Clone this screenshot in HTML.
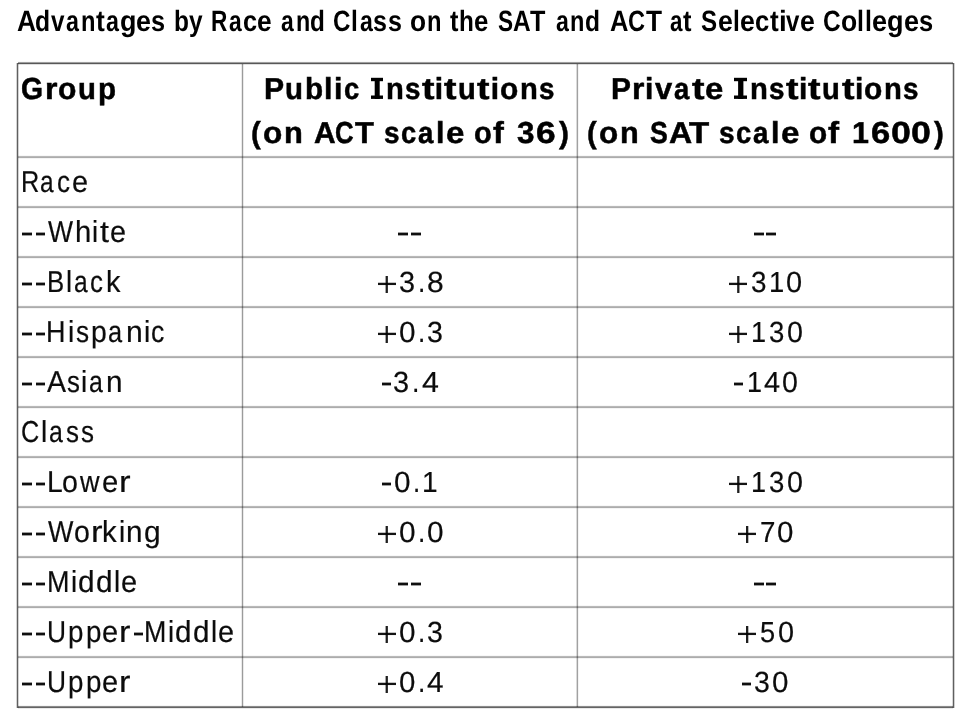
<!DOCTYPE html>
<html><head><meta charset="utf-8">
<style>
html,body{margin:0;padding:0;background:#fff;}
body{width:967px;height:720px;position:relative;overflow:hidden;font-family:"Liberation Sans",sans-serif;color:#0c0c0c;}
.g{position:absolute;mix-blend-mode:multiply;}
.t{position:absolute;white-space:nowrap;transform-origin:0 0;line-height:1;text-rendering:geometricPrecision;}
.b{font-weight:bold;color:#000;}
.h{-webkit-text-stroke:0.5px #000;}
.r{-webkit-text-stroke:0.2px #0c0c0c;}
#w{position:absolute;left:0;top:0;width:967px;height:720px;will-change:transform;filter:blur(0.45px);}
</style></head><body><div id="w">
<div class="g" style="left:18.00px;top:61px;width:935.00px;height:4px;background:linear-gradient(to bottom,#f9f9f9 0px 1px,#9f9f9f 1px 2px,#575757 2px 3px,#dfdfdf 3px 4px)"></div>
<div class="g" style="left:18.00px;top:705px;width:935.00px;height:4px;background:linear-gradient(to bottom,#f6f6f6 0px 1px,#8b8b8b 1px 2px,#646464 2px 3px,#e9e9e9 3px 4px)"></div>
<div class="g" style="left:16px;top:62.60px;width:3px;height:645.20px;background:linear-gradient(to right,#d3d3d3 0px 1px,#5f5f5f 1px 2px,#d3d3d3 2px 3px)"></div>
<div class="g" style="left:952px;top:62.60px;width:3px;height:645.20px;background:linear-gradient(to right,#d7d7d7 0px 1px,#5f5f5f 1px 2px,#d0d0d0 2px 3px)"></div>
<div class="g" style="left:241px;top:64.00px;width:3px;height:643.00px;background:linear-gradient(to right,#eaeaea 0px 1px,#9b9b9b 1px 2px,#eaeaea 2px 3px)"></div>
<div class="g" style="left:576px;top:64.00px;width:3px;height:643.00px;background:linear-gradient(to right,#dadada 0px 1px,#a1a1a1 1px 2px,#f4f4f4 2px 3px)"></div>
<div class="g" style="left:18.00px;top:155px;width:935.00px;height:4px;background:linear-gradient(to bottom,#f8f8f8 0px 1px,#b9b9b9 1px 2px,#acacac 2px 3px,#f4f4f4 3px 4px)"></div>
<div class="g" style="left:18.00px;top:205px;width:935.00px;height:4px;background:linear-gradient(to bottom,#f8f8f8 0px 1px,#b9b9b9 1px 2px,#acacac 2px 3px,#f4f4f4 3px 4px)"></div>
<div class="g" style="left:18.00px;top:255px;width:935.00px;height:4px;background:linear-gradient(to bottom,#f8f8f8 0px 1px,#b9b9b9 1px 2px,#acacac 2px 3px,#f4f4f4 3px 4px)"></div>
<div class="g" style="left:18.00px;top:305px;width:935.00px;height:4px;background:linear-gradient(to bottom,#f8f8f8 0px 1px,#b9b9b9 1px 2px,#acacac 2px 3px,#f4f4f4 3px 4px)"></div>
<div class="g" style="left:18.00px;top:355px;width:935.00px;height:4px;background:linear-gradient(to bottom,#f8f8f8 0px 1px,#b9b9b9 1px 2px,#acacac 2px 3px,#f4f4f4 3px 4px)"></div>
<div class="g" style="left:18.00px;top:405px;width:935.00px;height:4px;background:linear-gradient(to bottom,#f8f8f8 0px 1px,#b9b9b9 1px 2px,#acacac 2px 3px,#f4f4f4 3px 4px)"></div>
<div class="g" style="left:18.00px;top:455px;width:935.00px;height:4px;background:linear-gradient(to bottom,#f8f8f8 0px 1px,#b9b9b9 1px 2px,#acacac 2px 3px,#f4f4f4 3px 4px)"></div>
<div class="g" style="left:18.00px;top:505px;width:935.00px;height:4px;background:linear-gradient(to bottom,#f8f8f8 0px 1px,#b9b9b9 1px 2px,#acacac 2px 3px,#f4f4f4 3px 4px)"></div>
<div class="g" style="left:18.00px;top:555px;width:935.00px;height:4px;background:linear-gradient(to bottom,#f8f8f8 0px 1px,#b9b9b9 1px 2px,#acacac 2px 3px,#f4f4f4 3px 4px)"></div>
<div class="g" style="left:18.00px;top:605px;width:935.00px;height:4px;background:linear-gradient(to bottom,#f8f8f8 0px 1px,#b9b9b9 1px 2px,#acacac 2px 3px,#f4f4f4 3px 4px)"></div>
<div class="g" style="left:18.00px;top:655px;width:935.00px;height:4px;background:linear-gradient(to bottom,#f8f8f8 0px 1px,#b9b9b9 1px 2px,#acacac 2px 3px,#f4f4f4 3px 4px)"></div>
<span class="t b" style="left:16.50px;top:7.11px;font-size:29.4px;transform:scale(0.895,1.000)">A</span>
<span class="t b" style="left:35.34px;top:7.11px;font-size:29.4px;transform:scale(0.841,1.000)">d</span>
<span class="t b" style="left:51.14px;top:7.11px;font-size:29.4px;transform:scale(0.825,1.000)">v</span>
<span class="t b" style="left:65.97px;top:7.11px;font-size:29.4px;transform:scale(0.792,1.000)">a</span>
<span class="t b" style="left:80.74px;top:7.11px;font-size:29.4px;transform:scale(0.806,1.000)">n</span>
<span class="t b" style="left:95.86px;top:7.11px;font-size:29.4px;transform:scale(0.898,1.000)">t</span>
<span class="t b" style="left:106.20px;top:7.11px;font-size:29.4px;transform:scale(0.792,1.000)">a</span>
<span class="t b" style="left:120.29px;top:7.11px;font-size:29.4px;transform:scale(0.916,1.000)">g</span>
<span class="t b" style="left:136.31px;top:7.11px;font-size:29.4px;transform:scale(0.916,1.000)">e</span>
<span class="t b" style="left:151.24px;top:7.11px;font-size:29.4px;transform:scale(0.860,1.000)">s</span>
<span class="t b" style="left:173.67px;top:7.11px;font-size:29.4px;transform:scale(0.832,1.000)">b</span>
<span class="t b" style="left:188.56px;top:7.11px;font-size:29.4px;transform:scale(0.832,1.000)">y</span>
<span class="t b" style="left:211.43px;top:7.11px;font-size:29.4px;transform:scale(0.770,1.000)">R</span>
<span class="t b" style="left:228.99px;top:7.11px;font-size:29.4px;transform:scale(0.776,1.000)">a</span>
<span class="t b" style="left:242.84px;top:7.11px;font-size:29.4px;transform:scale(0.862,1.000)">c</span>
<span class="t b" style="left:257.13px;top:7.11px;font-size:29.4px;transform:scale(0.898,1.000)">e</span>
<span class="t b" style="left:281.00px;top:7.11px;font-size:29.4px;transform:scale(0.778,1.000)">a</span>
<span class="t b" style="left:295.50px;top:7.11px;font-size:29.4px;transform:scale(0.792,1.000)">n</span>
<span class="t b" style="left:310.35px;top:7.11px;font-size:29.4px;transform:scale(0.826,1.000)">d</span>
<span class="t b" style="left:333.48px;top:7.11px;font-size:29.4px;transform:scale(0.821,1.000)">C</span>
<span class="t b" style="left:351.39px;top:7.11px;font-size:29.4px;transform:scale(0.835,1.000)">l</span>
<span class="t b" style="left:359.59px;top:7.11px;font-size:29.4px;transform:scale(0.786,1.000)">a</span>
<span class="t b" style="left:373.35px;top:7.11px;font-size:29.4px;transform:scale(0.853,1.000)">s</span>
<span class="t b" style="left:387.65px;top:7.11px;font-size:29.4px;transform:scale(0.853,1.000)">s</span>
<span class="t b" style="left:410.31px;top:7.11px;font-size:29.4px;transform:scale(0.894,1.000)">o</span>
<span class="t b" style="left:426.79px;top:7.11px;font-size:29.4px;transform:scale(0.807,1.000)">n</span>
<span class="t b" style="left:449.70px;top:7.11px;font-size:29.4px;transform:scale(0.862,1.000)">t</span>
<span class="t b" style="left:458.51px;top:7.11px;font-size:29.4px;transform:scale(0.826,1.000)">h</span>
<span class="t b" style="left:473.82px;top:7.11px;font-size:29.4px;transform:scale(0.880,1.000)">e</span>
<span class="t b" style="left:497.80px;top:7.11px;font-size:29.4px;transform:scale(0.770,1.000)">S</span>
<span class="t b" style="left:513.09px;top:7.11px;font-size:29.4px;transform:scale(0.833,1.000)">A</span>
<span class="t b" style="left:529.59px;top:7.11px;font-size:29.4px;transform:scale(0.856,1.000)">T</span>
<span class="t b" style="left:555.60px;top:7.11px;font-size:29.4px;transform:scale(0.787,1.000)">a</span>
<span class="t b" style="left:570.27px;top:7.11px;font-size:29.4px;transform:scale(0.801,1.000)">n</span>
<span class="t b" style="left:585.29px;top:7.11px;font-size:29.4px;transform:scale(0.836,1.000)">d</span>
<span class="t b" style="left:609.50px;top:7.11px;font-size:29.4px;transform:scale(0.869,1.000)">A</span>
<span class="t b" style="left:627.84px;top:7.11px;font-size:29.4px;transform:scale(0.803,1.000)">C</span>
<span class="t b" style="left:645.53px;top:7.11px;font-size:29.4px;transform:scale(0.893,1.000)">T</span>
<span class="t b" style="left:669.80px;top:7.11px;font-size:29.4px;transform:scale(0.763,1.000)">a</span>
<span class="t b" style="left:683.45px;top:7.11px;font-size:29.4px;transform:scale(0.865,1.000)">t</span>
<span class="t b" style="left:701.30px;top:7.11px;font-size:29.4px;transform:scale(0.821,1.000)">S</span>
<span class="t b" style="left:717.54px;top:7.11px;font-size:29.4px;transform:scale(0.910,1.000)">e</span>
<span class="t b" style="left:732.66px;top:7.11px;font-size:29.4px;transform:scale(0.836,1.000)">l</span>
<span class="t b" style="left:739.96px;top:7.11px;font-size:29.4px;transform:scale(0.910,1.000)">e</span>
<span class="t b" style="left:755.04px;top:7.11px;font-size:29.4px;transform:scale(0.873,1.000)">c</span>
<span class="t b" style="left:769.59px;top:7.11px;font-size:29.4px;transform:scale(0.891,1.000)">t</span>
<span class="t b" style="left:778.51px;top:7.11px;font-size:29.4px;transform:scale(0.947,1.000)">i</span>
<span class="t b" style="left:786.39px;top:7.11px;font-size:29.4px;transform:scale(0.819,1.000)">v</span>
<span class="t b" style="left:800.24px;top:7.11px;font-size:29.4px;transform:scale(0.910,1.000)">e</span>
<span class="t b" style="left:823.17px;top:7.11px;font-size:29.4px;transform:scale(0.833,1.000)">C</span>
<span class="t b" style="left:841.29px;top:7.11px;font-size:29.4px;transform:scale(0.900,1.000)">o</span>
<span class="t b" style="left:857.28px;top:7.11px;font-size:29.4px;transform:scale(0.847,1.000)">l</span>
<span class="t b" style="left:864.75px;top:7.11px;font-size:29.4px;transform:scale(0.847,1.000)">l</span>
<span class="t b" style="left:872.15px;top:7.11px;font-size:29.4px;transform:scale(0.922,1.000)">e</span>
<span class="t b" style="left:887.40px;top:7.11px;font-size:29.4px;transform:scale(0.922,1.000)">g</span>
<span class="t b" style="left:903.53px;top:7.11px;font-size:29.4px;transform:scale(0.922,1.000)">e</span>
<span class="t b" style="left:918.55px;top:7.11px;font-size:29.4px;transform:scale(0.866,1.000)">s</span>
<span class="t b h" style="left:20.96px;top:75.05px;font-size:30.0px;transform:scale(0.945,1.010)">G</span>
<span class="t b h" style="left:44.89px;top:75.05px;font-size:30.0px;transform:scale(1.067,1.010)">r</span>
<span class="t b h" style="left:57.62px;top:75.05px;font-size:30.0px;transform:scale(1.003,1.010)">o</span>
<span class="t b h" style="left:77.68px;top:75.05px;font-size:30.0px;transform:scale(0.978,1.010)">u</span>
<span class="t b h" style="left:97.85px;top:75.05px;font-size:30.0px;transform:scale(0.986,1.010)">p</span>
<span class="t b h" style="left:264.09px;top:75.05px;font-size:30.0px;transform:scale(1.006,1.010)">P</span>
<span class="t b h" style="left:285.10px;top:75.05px;font-size:30.0px;transform:scale(0.981,1.010)">u</span>
<span class="t b h" style="left:305.32px;top:75.05px;font-size:30.0px;transform:scale(0.989,1.010)">b</span>
<span class="t b h" style="left:324.36px;top:75.05px;font-size:30.0px;transform:scale(1.009,1.010)">l</span>
<span class="t b h" style="left:333.96px;top:75.05px;font-size:30.0px;transform:scale(1.009,1.010)">i</span>
<span class="t b h" style="left:343.55px;top:75.05px;font-size:30.0px;transform:scale(0.916,1.010)">c</span>
<span class="t b h" style="left:386.23px;top:75.05px;font-size:30.0px;transform:scale(0.972,1.010)">n</span>
<span class="t b h" style="left:405.22px;top:75.05px;font-size:30.0px;transform:scale(0.926,1.010)">s</span>
<span class="t b h" style="left:421.57px;top:75.05px;font-size:30.0px;transform:scale(1.250,1.010)">t</span>
<span class="t b h" style="left:434.79px;top:75.05px;font-size:30.0px;transform:scale(1.000,1.010)">i</span>
<span class="t b h" style="left:444.37px;top:75.05px;font-size:30.0px;transform:scale(1.250,1.010)">t</span>
<span class="t b h" style="left:458.35px;top:75.05px;font-size:30.0px;transform:scale(0.972,1.010)">u</span>
<span class="t b h" style="left:477.43px;top:75.05px;font-size:30.0px;transform:scale(1.250,1.010)">t</span>
<span class="t b h" style="left:490.66px;top:75.05px;font-size:30.0px;transform:scale(1.000,1.010)">i</span>
<span class="t b h" style="left:500.07px;top:75.05px;font-size:30.0px;transform:scale(0.997,1.010)">o</span>
<span class="t b h" style="left:520.29px;top:75.05px;font-size:30.0px;transform:scale(0.972,1.010)">n</span>
<span class="t b h" style="left:539.28px;top:75.05px;font-size:30.0px;transform:scale(0.926,1.010)">s</span>
<span class="t b h" style="left:250.52px;top:118.65px;font-size:30.0px;transform:scale(0.978,1.010)">(</span>
<span class="t b h" style="left:262.68px;top:118.65px;font-size:30.0px;transform:scale(1.053,1.010)">o</span>
<span class="t b h" style="left:284.04px;top:118.65px;font-size:30.0px;transform:scale(1.027,1.010)">n</span>
<span class="t b h" style="left:314.10px;top:118.65px;font-size:30.0px;transform:scale(0.999,1.010)">A</span>
<span class="t b h" style="left:335.41px;top:118.65px;font-size:30.0px;transform:scale(0.858,1.010)">C</span>
<span class="t b h" style="left:355.18px;top:118.65px;font-size:30.0px;transform:scale(1.029,1.010)">T</span>
<span class="t b h" style="left:384.37px;top:118.65px;font-size:30.0px;transform:scale(0.932,1.010)">s</span>
<span class="t b h" style="left:400.75px;top:118.65px;font-size:30.0px;transform:scale(0.914,1.010)">c</span>
<span class="t b h" style="left:418.24px;top:118.65px;font-size:30.0px;transform:scale(0.921,1.010)">a</span>
<span class="t b h" style="left:436.22px;top:118.65px;font-size:30.0px;transform:scale(1.007,1.010)">l</span>
<span class="t b h" style="left:445.60px;top:118.65px;font-size:30.0px;transform:scale(1.100,1.010)">e</span>
<span class="t b h" style="left:474.03px;top:118.65px;font-size:30.0px;transform:scale(0.971,1.010)">o</span>
<span class="t b h" style="left:492.79px;top:118.65px;font-size:30.0px;transform:scale(1.083,1.010)">f</span>
<span class="t b h" style="left:516.80px;top:118.65px;font-size:30.0px;transform:scale(1.047,1.010)">3</span>
<span class="t b h" style="left:536.44px;top:118.65px;font-size:30.0px;transform:scale(1.177,1.010)">6</span>
<span class="t b h" style="left:559.03px;top:118.65px;font-size:30.0px;transform:scale(0.997,1.010)">)</span>
<span class="t b h" style="left:611.20px;top:75.05px;font-size:30.0px;transform:scale(0.998,1.010)">P</span>
<span class="t b h" style="left:632.25px;top:75.05px;font-size:30.0px;transform:scale(1.062,1.010)">r</span>
<span class="t b h" style="left:645.04px;top:75.05px;font-size:30.0px;transform:scale(1.002,1.010)">i</span>
<span class="t b h" style="left:654.63px;top:75.05px;font-size:30.0px;transform:scale(1.031,1.010)">v</span>
<span class="t b h" style="left:673.60px;top:75.05px;font-size:30.0px;transform:scale(0.917,1.010)">a</span>
<span class="t b h" style="left:691.55px;top:75.05px;font-size:30.0px;transform:scale(1.252,1.010)">t</span>
<span class="t b h" style="left:704.59px;top:75.05px;font-size:30.0px;transform:scale(1.095,1.010)">e</span>
<span class="t b h" style="left:750.23px;top:75.05px;font-size:30.0px;transform:scale(0.974,1.010)">n</span>
<span class="t b h" style="left:769.24px;top:75.05px;font-size:30.0px;transform:scale(0.927,1.010)">s</span>
<span class="t b h" style="left:785.61px;top:75.05px;font-size:30.0px;transform:scale(1.252,1.010)">t</span>
<span class="t b h" style="left:798.85px;top:75.05px;font-size:30.0px;transform:scale(1.001,1.010)">i</span>
<span class="t b h" style="left:808.44px;top:75.05px;font-size:30.0px;transform:scale(1.252,1.010)">t</span>
<span class="t b h" style="left:822.43px;top:75.05px;font-size:30.0px;transform:scale(0.974,1.010)">u</span>
<span class="t b h" style="left:841.54px;top:75.05px;font-size:30.0px;transform:scale(1.252,1.010)">t</span>
<span class="t b h" style="left:854.78px;top:75.05px;font-size:30.0px;transform:scale(1.001,1.010)">i</span>
<span class="t b h" style="left:864.21px;top:75.05px;font-size:30.0px;transform:scale(0.998,1.010)">o</span>
<span class="t b h" style="left:884.45px;top:75.05px;font-size:30.0px;transform:scale(0.974,1.010)">n</span>
<span class="t b h" style="left:903.47px;top:75.05px;font-size:30.0px;transform:scale(0.927,1.010)">s</span>
<span class="t b h" style="left:586.73px;top:118.65px;font-size:30.0px;transform:scale(0.972,1.010)">(</span>
<span class="t b h" style="left:598.82px;top:118.65px;font-size:30.0px;transform:scale(1.047,1.010)">o</span>
<span class="t b h" style="left:620.05px;top:118.65px;font-size:30.0px;transform:scale(1.021,1.010)">n</span>
<span class="t b h" style="left:650.00px;top:118.65px;font-size:30.0px;transform:scale(0.890,1.010)">S</span>
<span class="t b h" style="left:668.96px;top:118.65px;font-size:30.0px;transform:scale(1.069,1.010)">A</span>
<span class="t b h" style="left:689.27px;top:118.65px;font-size:30.0px;transform:scale(1.102,1.010)">T</span>
<span class="t b h" style="left:719.36px;top:118.65px;font-size:30.0px;transform:scale(0.936,1.010)">s</span>
<span class="t b h" style="left:735.81px;top:118.65px;font-size:30.0px;transform:scale(0.917,1.010)">c</span>
<span class="t b h" style="left:753.37px;top:118.65px;font-size:30.0px;transform:scale(0.925,1.010)">a</span>
<span class="t b h" style="left:771.42px;top:118.65px;font-size:30.0px;transform:scale(1.011,1.010)">l</span>
<span class="t b h" style="left:780.83px;top:118.65px;font-size:30.0px;transform:scale(1.104,1.010)">e</span>
<span class="t b h" style="left:809.31px;top:118.65px;font-size:30.0px;transform:scale(0.991,1.010)">o</span>
<span class="t b h" style="left:828.45px;top:118.65px;font-size:30.0px;transform:scale(1.105,1.010)">f</span>
<span class="t b h" style="left:852.08px;top:118.65px;font-size:30.0px;transform:scale(1.015,1.010)">1</span>
<span class="t b h" style="left:870.86px;top:118.65px;font-size:30.0px;transform:scale(1.152,1.010)">6</span>
<span class="t b h" style="left:890.61px;top:118.65px;font-size:30.0px;transform:scale(1.191,1.010)">0</span>
<span class="t b h" style="left:910.98px;top:118.65px;font-size:30.0px;transform:scale(1.191,1.010)">0</span>
<span class="t b h" style="left:933.69px;top:118.65px;font-size:30.0px;transform:scale(0.981,1.010)">)</span>
<span class="t r" style="left:21.41px;top:168.35px;font-size:30.0px;transform:scale(0.846,1.010)">R</span>
<span class="t r" style="left:40.10px;top:168.35px;font-size:30.0px;transform:scale(0.814,1.010)">a</span>
<span class="t r" style="left:56.74px;top:168.35px;font-size:30.0px;transform:scale(0.871,1.010)">c</span>
<span class="t r" style="left:71.88px;top:168.35px;font-size:30.0px;transform:scale(0.960,1.010)">e</span>
<span class="t r" style="left:47.60px;top:218.35px;font-size:30.0px;transform:scale(0.885,1.010)">W</span>
<span class="t r" style="left:74.60px;top:218.35px;font-size:30.0px;transform:scale(0.977,1.010)">h</span>
<span class="t r" style="left:92.21px;top:218.35px;font-size:30.0px;transform:scale(0.920,1.010)">i</span>
<span class="t r" style="left:99.79px;top:218.35px;font-size:30.0px;transform:scale(1.074,1.010)">t</span>
<span class="t r" style="left:110.49px;top:218.35px;font-size:30.0px;transform:scale(0.957,1.010)">e</span>
<span class="t r" style="left:47.18px;top:268.35px;font-size:30.0px;transform:scale(0.859,1.010)">B</span>
<span class="t r" style="left:65.97px;top:268.35px;font-size:30.0px;transform:scale(0.919,1.010)">l</span>
<span class="t r" style="left:73.76px;top:268.35px;font-size:30.0px;transform:scale(0.817,1.010)">a</span>
<span class="t r" style="left:90.38px;top:268.35px;font-size:30.0px;transform:scale(0.866,1.010)">c</span>
<span class="t r" style="left:105.57px;top:268.35px;font-size:30.0px;transform:scale(0.964,1.010)">k</span>
<span class="t r" style="left:46.30px;top:318.35px;font-size:30.0px;transform:scale(0.899,1.010)">H</span>
<span class="t r" style="left:67.56px;top:318.35px;font-size:30.0px;transform:scale(0.946,1.010)">i</span>
<span class="t r" style="left:76.20px;top:318.35px;font-size:30.0px;transform:scale(0.872,1.010)">s</span>
<span class="t r" style="left:91.19px;top:318.35px;font-size:30.0px;transform:scale(0.946,1.010)">p</span>
<span class="t r" style="left:108.36px;top:318.35px;font-size:30.0px;transform:scale(0.846,1.010)">a</span>
<span class="t r" style="left:125.55px;top:318.35px;font-size:30.0px;transform:scale(1.005,1.010)">n</span>
<span class="t r" style="left:143.66px;top:318.35px;font-size:30.0px;transform:scale(0.946,1.010)">i</span>
<span class="t r" style="left:151.41px;top:318.35px;font-size:30.0px;transform:scale(0.892,1.010)">c</span>
<span class="t r" style="left:46.50px;top:368.35px;font-size:30.0px;transform:scale(0.952,1.010)">A</span>
<span class="t r" style="left:67.06px;top:368.35px;font-size:30.0px;transform:scale(0.860,1.010)">s</span>
<span class="t r" style="left:80.90px;top:368.35px;font-size:30.0px;transform:scale(0.934,1.010)">i</span>
<span class="t r" style="left:88.84px;top:368.35px;font-size:30.0px;transform:scale(0.828,1.010)">a</span>
<span class="t r" style="left:105.73px;top:368.35px;font-size:30.0px;transform:scale(0.991,1.010)">n</span>
<span class="t r" style="left:20.76px;top:418.35px;font-size:30.0px;transform:scale(0.845,1.010)">C</span>
<span class="t r" style="left:40.51px;top:418.35px;font-size:30.0px;transform:scale(0.938,1.010)">l</span>
<span class="t r" style="left:48.53px;top:418.35px;font-size:30.0px;transform:scale(0.827,1.010)">a</span>
<span class="t r" style="left:66.33px;top:418.35px;font-size:30.0px;transform:scale(0.865,1.010)">s</span>
<span class="t r" style="left:81.00px;top:418.35px;font-size:30.0px;transform:scale(0.865,1.010)">s</span>
<span class="t r" style="left:46.72px;top:468.35px;font-size:30.0px;transform:scale(0.942,1.010)">L</span>
<span class="t r" style="left:61.67px;top:468.35px;font-size:30.0px;transform:scale(0.954,1.010)">o</span>
<span class="t r" style="left:80.41px;top:468.35px;font-size:30.0px;transform:scale(0.903,1.010)">w</span>
<span class="t r" style="left:101.77px;top:468.35px;font-size:30.0px;transform:scale(0.973,1.010)">e</span>
<span class="t r" style="left:118.82px;top:468.35px;font-size:30.0px;transform:scale(1.158,1.010)">r</span>
<span class="t r" style="left:48.10px;top:518.35px;font-size:30.0px;transform:scale(0.897,1.010)">W</span>
<span class="t r" style="left:73.73px;top:518.35px;font-size:30.0px;transform:scale(0.951,1.010)">o</span>
<span class="t r" style="left:90.61px;top:518.35px;font-size:30.0px;transform:scale(1.154,1.010)">r</span>
<span class="t r" style="left:102.46px;top:518.35px;font-size:30.0px;transform:scale(0.979,1.010)">k</span>
<span class="t r" style="left:118.76px;top:518.35px;font-size:30.0px;transform:scale(0.933,1.010)">i</span>
<span class="t r" style="left:126.42px;top:518.35px;font-size:30.0px;transform:scale(0.990,1.010)">n</span>
<span class="t r" style="left:144.01px;top:518.35px;font-size:30.0px;transform:scale(0.999,1.010)">g</span>
<span class="t r" style="left:46.80px;top:568.35px;font-size:30.0px;transform:scale(0.900,1.010)">M</span>
<span class="t r" style="left:70.74px;top:568.35px;font-size:30.0px;transform:scale(0.927,1.010)">i</span>
<span class="t r" style="left:78.21px;top:568.35px;font-size:30.0px;transform:scale(0.993,1.010)">d</span>
<span class="t r" style="left:95.87px;top:568.35px;font-size:30.0px;transform:scale(0.993,1.010)">d</span>
<span class="t r" style="left:113.77px;top:568.35px;font-size:30.0px;transform:scale(0.927,1.010)">l</span>
<span class="t r" style="left:121.28px;top:568.35px;font-size:30.0px;transform:scale(0.964,1.010)">e</span>
<span class="t r" style="left:46.54px;top:618.35px;font-size:30.0px;transform:scale(0.879,1.010)">U</span>
<span class="t r" style="left:67.98px;top:618.35px;font-size:30.0px;transform:scale(0.926,1.010)">p</span>
<span class="t r" style="left:85.60px;top:618.35px;font-size:30.0px;transform:scale(0.926,1.010)">p</span>
<span class="t r" style="left:102.08px;top:618.35px;font-size:30.0px;transform:scale(0.963,1.010)">e</span>
<span class="t r" style="left:118.95px;top:618.35px;font-size:30.0px;transform:scale(1.145,1.010)">r</span>
<span class="t r" style="left:144.01px;top:618.35px;font-size:30.0px;transform:scale(0.895,1.010)">M</span>
<span class="t r" style="left:167.81px;top:618.35px;font-size:30.0px;transform:scale(0.922,1.010)">i</span>
<span class="t r" style="left:175.25px;top:618.35px;font-size:30.0px;transform:scale(0.988,1.010)">d</span>
<span class="t r" style="left:192.80px;top:618.35px;font-size:30.0px;transform:scale(0.988,1.010)">d</span>
<span class="t r" style="left:210.60px;top:618.35px;font-size:30.0px;transform:scale(0.922,1.010)">l</span>
<span class="t r" style="left:218.06px;top:618.35px;font-size:30.0px;transform:scale(0.959,1.010)">e</span>
<span class="t r" style="left:46.54px;top:668.35px;font-size:30.0px;transform:scale(0.879,1.010)">U</span>
<span class="t r" style="left:67.98px;top:668.35px;font-size:30.0px;transform:scale(0.926,1.010)">p</span>
<span class="t r" style="left:85.60px;top:668.35px;font-size:30.0px;transform:scale(0.926,1.010)">p</span>
<span class="t r" style="left:102.08px;top:668.35px;font-size:30.0px;transform:scale(0.963,1.010)">e</span>
<span class="t r" style="left:118.95px;top:668.35px;font-size:30.0px;transform:scale(1.145,1.010)">r</span>
<span class="t r" style="left:399.04px;top:269.38px;font-size:30.0px;transform:scale(0.962,0.970)">3</span>
<span class="t r" style="left:417.72px;top:269.38px;font-size:30.0px;transform:scale(0.877,0.970)">.</span>
<span class="t r" style="left:426.79px;top:269.38px;font-size:30.0px;transform:scale(1.001,0.970)">8</span>
<span class="t r" style="left:399.01px;top:319.38px;font-size:30.0px;transform:scale(0.991,0.970)">0</span>
<span class="t r" style="left:417.85px;top:319.38px;font-size:30.0px;transform:scale(0.869,0.970)">.</span>
<span class="t r" style="left:427.16px;top:319.38px;font-size:30.0px;transform:scale(0.953,0.970)">3</span>
<span class="t r" style="left:393.44px;top:369.38px;font-size:30.0px;transform:scale(0.964,0.970)">3</span>
<span class="t r" style="left:412.12px;top:369.38px;font-size:30.0px;transform:scale(0.891,0.970)">.</span>
<span class="t r" style="left:421.67px;top:369.38px;font-size:30.0px;transform:scale(1.014,0.970)">4</span>
<span class="t r" style="left:393.71px;top:469.38px;font-size:30.0px;transform:scale(0.991,0.970)">0</span>
<span class="t r" style="left:412.57px;top:469.38px;font-size:30.0px;transform:scale(0.863,0.970)">.</span>
<span class="t r" style="left:421.81px;top:469.38px;font-size:30.0px;transform:scale(0.937,0.970)">1</span>
<span class="t r" style="left:399.01px;top:519.38px;font-size:30.0px;transform:scale(0.994,0.970)">0</span>
<span class="t r" style="left:417.87px;top:519.38px;font-size:30.0px;transform:scale(0.877,0.970)">.</span>
<span class="t r" style="left:426.90px;top:519.38px;font-size:30.0px;transform:scale(0.994,0.970)">0</span>
<span class="t r" style="left:399.01px;top:619.38px;font-size:30.0px;transform:scale(0.991,0.970)">0</span>
<span class="t r" style="left:417.85px;top:619.38px;font-size:30.0px;transform:scale(0.869,0.970)">.</span>
<span class="t r" style="left:427.16px;top:619.38px;font-size:30.0px;transform:scale(0.953,0.970)">3</span>
<span class="t r" style="left:399.02px;top:669.38px;font-size:30.0px;transform:scale(0.981,0.970)">0</span>
<span class="t r" style="left:417.58px;top:669.38px;font-size:30.0px;transform:scale(0.877,0.970)">.</span>
<span class="t r" style="left:426.94px;top:669.38px;font-size:30.0px;transform:scale(0.991,0.970)">4</span>
<span class="t r" style="left:750.57px;top:269.38px;font-size:30.0px;transform:scale(0.929,0.970)">3</span>
<span class="t r" style="left:768.62px;top:269.38px;font-size:30.0px;transform:scale(0.914,0.970)">1</span>
<span class="t r" style="left:786.43px;top:269.38px;font-size:30.0px;transform:scale(0.967,0.970)">0</span>
<span class="t r" style="left:751.09px;top:319.38px;font-size:30.0px;transform:scale(0.904,0.970)">1</span>
<span class="t r" style="left:769.03px;top:319.38px;font-size:30.0px;transform:scale(0.919,0.970)">3</span>
<span class="t r" style="left:786.60px;top:319.38px;font-size:30.0px;transform:scale(0.956,0.970)">0</span>
<span class="t r" style="left:746.50px;top:369.38px;font-size:30.0px;transform:scale(0.900,0.970)">1</span>
<span class="t r" style="left:764.44px;top:369.38px;font-size:30.0px;transform:scale(0.963,0.970)">4</span>
<span class="t r" style="left:781.86px;top:369.38px;font-size:30.0px;transform:scale(0.952,0.970)">0</span>
<span class="t r" style="left:751.09px;top:469.38px;font-size:30.0px;transform:scale(0.904,0.970)">1</span>
<span class="t r" style="left:769.03px;top:469.38px;font-size:30.0px;transform:scale(0.919,0.970)">3</span>
<span class="t r" style="left:786.60px;top:469.38px;font-size:30.0px;transform:scale(0.956,0.970)">0</span>
<span class="t r" style="left:759.67px;top:519.38px;font-size:30.0px;transform:scale(0.926,0.970)">7</span>
<span class="t r" style="left:777.45px;top:519.38px;font-size:30.0px;transform:scale(0.984,0.970)">0</span>
<span class="t r" style="left:760.09px;top:619.38px;font-size:30.0px;transform:scale(0.907,0.970)">5</span>
<span class="t r" style="left:777.78px;top:619.38px;font-size:30.0px;transform:scale(0.964,0.970)">0</span>
<span class="t r" style="left:754.05px;top:669.38px;font-size:30.0px;transform:scale(0.949,0.970)">3</span>
<span class="t r" style="left:772.20px;top:669.38px;font-size:30.0px;transform:scale(0.987,0.970)">0</span>
<div class="g" style="left:22.40px;top:232px;width:9.35px;height:4px;background:linear-gradient(to bottom,#9f9f9f 0px 1px,#0f0f0f 1px 2px,#0f0f0f 2px 3px,#9f9f9f 3px 4px)"></div>
<div class="g" style="left:35.50px;top:232px;width:9.20px;height:4px;background:linear-gradient(to bottom,#9f9f9f 0px 1px,#0f0f0f 1px 2px,#0f0f0f 2px 3px,#9f9f9f 3px 4px)"></div>
<div class="g" style="left:22.40px;top:282px;width:9.35px;height:4px;background:linear-gradient(to bottom,#9f9f9f 0px 1px,#0f0f0f 1px 2px,#0f0f0f 2px 3px,#9f9f9f 3px 4px)"></div>
<div class="g" style="left:35.50px;top:282px;width:9.20px;height:4px;background:linear-gradient(to bottom,#9f9f9f 0px 1px,#0f0f0f 1px 2px,#0f0f0f 2px 3px,#9f9f9f 3px 4px)"></div>
<div class="g" style="left:22.40px;top:332px;width:9.35px;height:4px;background:linear-gradient(to bottom,#9f9f9f 0px 1px,#0f0f0f 1px 2px,#0f0f0f 2px 3px,#9f9f9f 3px 4px)"></div>
<div class="g" style="left:35.50px;top:332px;width:9.20px;height:4px;background:linear-gradient(to bottom,#9f9f9f 0px 1px,#0f0f0f 1px 2px,#0f0f0f 2px 3px,#9f9f9f 3px 4px)"></div>
<div class="g" style="left:22.40px;top:382px;width:9.35px;height:4px;background:linear-gradient(to bottom,#9f9f9f 0px 1px,#0f0f0f 1px 2px,#0f0f0f 2px 3px,#9f9f9f 3px 4px)"></div>
<div class="g" style="left:35.50px;top:382px;width:9.20px;height:4px;background:linear-gradient(to bottom,#9f9f9f 0px 1px,#0f0f0f 1px 2px,#0f0f0f 2px 3px,#9f9f9f 3px 4px)"></div>
<div class="g" style="left:22.40px;top:482px;width:9.35px;height:4px;background:linear-gradient(to bottom,#9f9f9f 0px 1px,#0f0f0f 1px 2px,#0f0f0f 2px 3px,#9f9f9f 3px 4px)"></div>
<div class="g" style="left:35.50px;top:482px;width:9.20px;height:4px;background:linear-gradient(to bottom,#9f9f9f 0px 1px,#0f0f0f 1px 2px,#0f0f0f 2px 3px,#9f9f9f 3px 4px)"></div>
<div class="g" style="left:22.40px;top:532px;width:9.35px;height:4px;background:linear-gradient(to bottom,#9f9f9f 0px 1px,#0f0f0f 1px 2px,#0f0f0f 2px 3px,#9f9f9f 3px 4px)"></div>
<div class="g" style="left:35.50px;top:532px;width:9.20px;height:4px;background:linear-gradient(to bottom,#9f9f9f 0px 1px,#0f0f0f 1px 2px,#0f0f0f 2px 3px,#9f9f9f 3px 4px)"></div>
<div class="g" style="left:22.40px;top:582px;width:9.35px;height:4px;background:linear-gradient(to bottom,#9f9f9f 0px 1px,#0f0f0f 1px 2px,#0f0f0f 2px 3px,#9f9f9f 3px 4px)"></div>
<div class="g" style="left:35.50px;top:582px;width:9.20px;height:4px;background:linear-gradient(to bottom,#9f9f9f 0px 1px,#0f0f0f 1px 2px,#0f0f0f 2px 3px,#9f9f9f 3px 4px)"></div>
<div class="g" style="left:22.40px;top:632px;width:9.35px;height:4px;background:linear-gradient(to bottom,#9f9f9f 0px 1px,#0f0f0f 1px 2px,#0f0f0f 2px 3px,#9f9f9f 3px 4px)"></div>
<div class="g" style="left:35.50px;top:632px;width:9.20px;height:4px;background:linear-gradient(to bottom,#9f9f9f 0px 1px,#0f0f0f 1px 2px,#0f0f0f 2px 3px,#9f9f9f 3px 4px)"></div>
<div class="g" style="left:22.40px;top:682px;width:9.35px;height:4px;background:linear-gradient(to bottom,#9f9f9f 0px 1px,#0f0f0f 1px 2px,#0f0f0f 2px 3px,#9f9f9f 3px 4px)"></div>
<div class="g" style="left:35.50px;top:682px;width:9.20px;height:4px;background:linear-gradient(to bottom,#9f9f9f 0px 1px,#0f0f0f 1px 2px,#0f0f0f 2px 3px,#9f9f9f 3px 4px)"></div>
<div class="g" style="left:134.10px;top:632px;width:8.70px;height:4px;background:linear-gradient(to bottom,#9f9f9f 0px 1px,#0f0f0f 1px 2px,#0f0f0f 2px 3px,#9f9f9f 3px 4px)"></div>
<div class="g" style="left:397.90px;top:232px;width:10.10px;height:4px;background:linear-gradient(to bottom,#9f9f9f 0px 1px,#0f0f0f 1px 2px,#0f0f0f 2px 3px,#9f9f9f 3px 4px)"></div>
<div class="g" style="left:410.60px;top:232px;width:10.20px;height:4px;background:linear-gradient(to bottom,#9f9f9f 0px 1px,#0f0f0f 1px 2px,#0f0f0f 2px 3px,#9f9f9f 3px 4px)"></div>
<div class="g" style="left:753.60px;top:232px;width:10.10px;height:4px;background:linear-gradient(to bottom,#9f9f9f 0px 1px,#0f0f0f 1px 2px,#0f0f0f 2px 3px,#9f9f9f 3px 4px)"></div>
<div class="g" style="left:766.20px;top:232px;width:10.10px;height:4px;background:linear-gradient(to bottom,#9f9f9f 0px 1px,#0f0f0f 1px 2px,#0f0f0f 2px 3px,#9f9f9f 3px 4px)"></div>
<div class="g" style="left:397.90px;top:582px;width:10.10px;height:4px;background:linear-gradient(to bottom,#9f9f9f 0px 1px,#0f0f0f 1px 2px,#0f0f0f 2px 3px,#9f9f9f 3px 4px)"></div>
<div class="g" style="left:410.60px;top:582px;width:10.20px;height:4px;background:linear-gradient(to bottom,#9f9f9f 0px 1px,#0f0f0f 1px 2px,#0f0f0f 2px 3px,#9f9f9f 3px 4px)"></div>
<div class="g" style="left:753.60px;top:582px;width:10.10px;height:4px;background:linear-gradient(to bottom,#9f9f9f 0px 1px,#0f0f0f 1px 2px,#0f0f0f 2px 3px,#9f9f9f 3px 4px)"></div>
<div class="g" style="left:766.20px;top:582px;width:10.10px;height:4px;background:linear-gradient(to bottom,#9f9f9f 0px 1px,#0f0f0f 1px 2px,#0f0f0f 2px 3px,#9f9f9f 3px 4px)"></div>
<div class="g" style="left:381.70px;top:382px;width:9.00px;height:4px;background:linear-gradient(to bottom,#9f9f9f 0px 1px,#0f0f0f 1px 2px,#0f0f0f 2px 3px,#9f9f9f 3px 4px)"></div>
<div class="g" style="left:381.70px;top:482px;width:9.00px;height:4px;background:linear-gradient(to bottom,#9f9f9f 0px 1px,#0f0f0f 1px 2px,#0f0f0f 2px 3px,#9f9f9f 3px 4px)"></div>
<div class="g" style="left:733.50px;top:382px;width:9.00px;height:4px;background:linear-gradient(to bottom,#9f9f9f 0px 1px,#0f0f0f 1px 2px,#0f0f0f 2px 3px,#9f9f9f 3px 4px)"></div>
<div class="g" style="left:742.20px;top:682px;width:8.60px;height:4px;background:linear-gradient(to bottom,#9f9f9f 0px 1px,#0f0f0f 1px 2px,#0f0f0f 2px 3px,#9f9f9f 3px 4px)"></div>
<div class="g" style="left:377.90px;top:282px;width:17.70px;height:4px;background:linear-gradient(to bottom,#c4c4c4 0px 1px,#141414 1px 2px,#141414 2px 3px,#f3f3f3 3px 4px)"></div>
<div class="g" style="left:385px;top:275.70px;width:3px;height:17.00px;background:linear-gradient(to right,#a5a5a5 0px 1px,#1e1e1e 1px 2px,#353535 2px 3px)"></div>
<div class="g" style="left:377.90px;top:332px;width:17.70px;height:4px;background:linear-gradient(to bottom,#c4c4c4 0px 1px,#141414 1px 2px,#141414 2px 3px,#f3f3f3 3px 4px)"></div>
<div class="g" style="left:385px;top:325.70px;width:3px;height:17.00px;background:linear-gradient(to right,#a5a5a5 0px 1px,#1e1e1e 1px 2px,#353535 2px 3px)"></div>
<div class="g" style="left:377.90px;top:532px;width:17.70px;height:4px;background:linear-gradient(to bottom,#c4c4c4 0px 1px,#141414 1px 2px,#141414 2px 3px,#f3f3f3 3px 4px)"></div>
<div class="g" style="left:385px;top:525.70px;width:3px;height:17.00px;background:linear-gradient(to right,#a5a5a5 0px 1px,#1e1e1e 1px 2px,#353535 2px 3px)"></div>
<div class="g" style="left:377.90px;top:632px;width:17.70px;height:4px;background:linear-gradient(to bottom,#c4c4c4 0px 1px,#141414 1px 2px,#141414 2px 3px,#f3f3f3 3px 4px)"></div>
<div class="g" style="left:385px;top:625.70px;width:3px;height:17.00px;background:linear-gradient(to right,#a5a5a5 0px 1px,#1e1e1e 1px 2px,#353535 2px 3px)"></div>
<div class="g" style="left:377.90px;top:682px;width:17.70px;height:4px;background:linear-gradient(to bottom,#c4c4c4 0px 1px,#141414 1px 2px,#141414 2px 3px,#f3f3f3 3px 4px)"></div>
<div class="g" style="left:385px;top:675.70px;width:3px;height:17.00px;background:linear-gradient(to right,#a5a5a5 0px 1px,#1e1e1e 1px 2px,#353535 2px 3px)"></div>
<div class="g" style="left:729.40px;top:282px;width:17.80px;height:4px;background:linear-gradient(to bottom,#c4c4c4 0px 1px,#141414 1px 2px,#141414 2px 3px,#f3f3f3 3px 4px)"></div>
<div class="g" style="left:737px;top:275.70px;width:3px;height:17.00px;background:linear-gradient(to right,#404040 0px 1px,#1e1e1e 1px 2px,#9a9a9a 2px 3px)"></div>
<div class="g" style="left:729.40px;top:332px;width:17.80px;height:4px;background:linear-gradient(to bottom,#c4c4c4 0px 1px,#141414 1px 2px,#141414 2px 3px,#f3f3f3 3px 4px)"></div>
<div class="g" style="left:737px;top:325.70px;width:3px;height:17.00px;background:linear-gradient(to right,#404040 0px 1px,#1e1e1e 1px 2px,#9a9a9a 2px 3px)"></div>
<div class="g" style="left:729.40px;top:482px;width:17.80px;height:4px;background:linear-gradient(to bottom,#c4c4c4 0px 1px,#141414 1px 2px,#141414 2px 3px,#f3f3f3 3px 4px)"></div>
<div class="g" style="left:737px;top:475.70px;width:3px;height:17.00px;background:linear-gradient(to right,#404040 0px 1px,#1e1e1e 1px 2px,#9a9a9a 2px 3px)"></div>
<div class="g" style="left:738.10px;top:532px;width:18.10px;height:4px;background:linear-gradient(to bottom,#c4c4c4 0px 1px,#141414 1px 2px,#141414 2px 3px,#f3f3f3 3px 4px)"></div>
<div class="g" style="left:746px;top:525.70px;width:3px;height:17.00px;background:linear-gradient(to right,#1e1e1e 0px 1px,#1e1e1e 1px 2px,#bbbbbb 2px 3px)"></div>
<div class="g" style="left:738.10px;top:632px;width:18.10px;height:4px;background:linear-gradient(to bottom,#c4c4c4 0px 1px,#141414 1px 2px,#141414 2px 3px,#f3f3f3 3px 4px)"></div>
<div class="g" style="left:746px;top:625.70px;width:3px;height:17.00px;background:linear-gradient(to right,#1e1e1e 0px 1px,#1e1e1e 1px 2px,#bbbbbb 2px 3px)"></div>
<div class="g" style="left:374px;top:77.80px;width:6px;height:21.10px;background:linear-gradient(to right,#b2b2b2 0px 1px,#000000 1px 2px,#000000 2px 3px,#000000 3px 4px,#000000 4px 5px,#4d4d4d 5px 6px)"></div>
<div class="g" style="left:371.00px;top:77px;width:12.10px;height:5px;background:linear-gradient(to bottom,#cccccc 0px 1px,#000000 1px 2px,#000000 2px 3px,#000000 3px 4px,#cccccc 4px 5px)"></div>
<div class="g" style="left:371.00px;top:95px;width:12.10px;height:4px;background:linear-gradient(to bottom,#808080 0px 1px,#000000 1px 2px,#000000 2px 3px,#191919 3px 4px)"></div>
<div class="g" style="left:738px;top:77.80px;width:6px;height:21.10px;background:linear-gradient(to right,#1a1a1a 0px 1px,#000000 1px 2px,#000000 2px 3px,#000000 3px 4px,#000000 4px 5px,#999999 5px 6px)"></div>
<div class="g" style="left:734.40px;top:77px;width:12.40px;height:5px;background:linear-gradient(to bottom,#cccccc 0px 1px,#000000 1px 2px,#000000 2px 3px,#000000 3px 4px,#cccccc 4px 5px)"></div>
<div class="g" style="left:734.40px;top:95px;width:12.40px;height:4px;background:linear-gradient(to bottom,#808080 0px 1px,#000000 1px 2px,#000000 2px 3px,#191919 3px 4px)"></div>
</div></body></html>
